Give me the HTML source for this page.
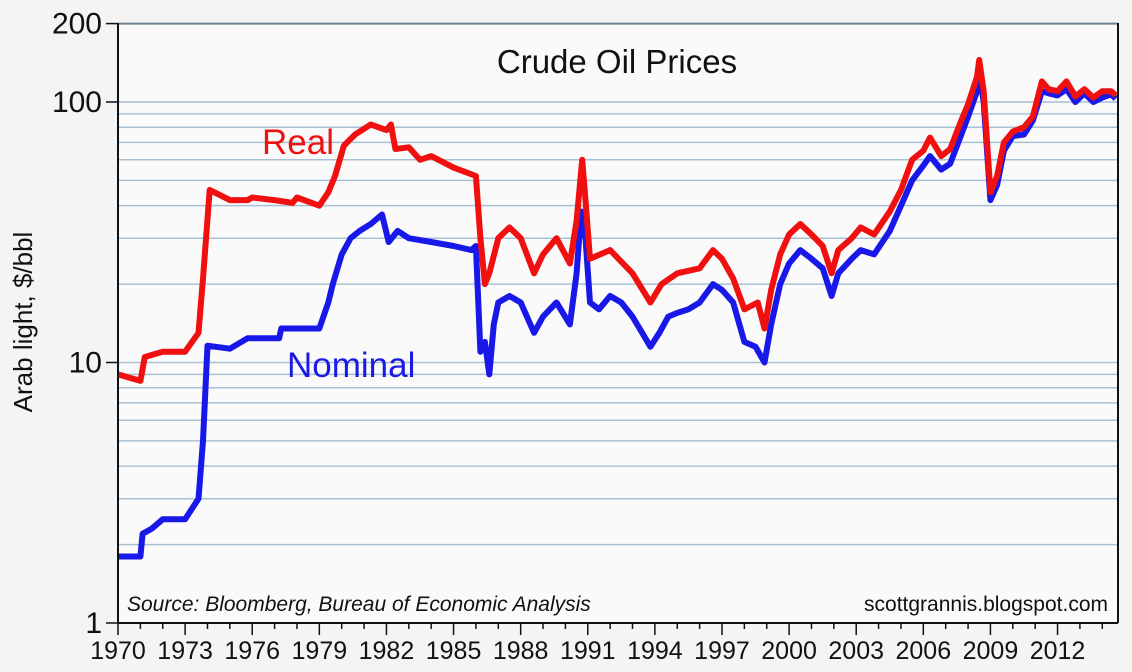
<!DOCTYPE html>
<html><head><meta charset="utf-8">
<style>
html,body{margin:0;padding:0;background:#f4f4f4;}
svg{display:block;font-family:"Liberation Sans",sans-serif;}
</style></head>
<body>
<svg id="chart" width="1132" height="672">
<rect x="0" y="0" width="1132" height="672" fill="#f4f4f4"/>
<rect x="118" y="23" width="1000" height="600" fill="#fafafa"/>
<g id="grid"></g>
<g id="series"></g>
<g id="axes"></g>
<text x="617" y="73" font-size="33" text-anchor="middle" fill="#111">Crude Oil Prices</text>
<text x="262" y="154" font-size="35" fill="#ee1111">Real</text>
<text x="287" y="377" font-size="35" fill="#1a1ae6">Nominal</text>
<text x="127" y="611" font-size="21" font-style="italic" fill="#111">Source: Bloomberg, Bureau of Economic Analysis</text>
<text x="1108" y="611" font-size="21" text-anchor="end" fill="#111">scottgrannis.blogspot.com</text>
<text transform="translate(32,322) rotate(-90)" font-size="26" text-anchor="middle" fill="#111">Arab light, $/bbl</text>
</svg>
<script>
const yTickLabels=[1,10,100,200];
const xTickLabels=[1970,1973,1976,1979,1982,1985,1988,1991,1994,1997,2000,2003,2006,2009,2012];
const nominalYears=[1970,1971,1971.1,1971.5,1972,1973,1973.6,1973.8,1974.0,1975,1975.8,1977.2,1977.3,1979.0,1979.4,1979.6,1980.0,1980.4,1980.8,1981.3,1981.8,1982.1,1982.5,1983,1984,1985,1985.8,1986.0,1986.2,1986.4,1986.6,1986.8,1987,1987.5,1988,1988.6,1989,1989.6,1990.2,1990.5,1990.7,1990.9,1991.1,1991.5,1992,1992.5,1993,1993.8,1994.2,1994.6,1995,1995.5,1996,1996.6,1997,1997.5,1998,1998.5,1998.9,1999.2,1999.6,2000,2000.5,2001,2001.5,2001.9,2002.2,2002.8,2003.2,2003.8,2004.5,2005,2005.5,2006,2006.3,2006.8,2007.2,2007.7,2008.0,2008.4,2008.5,2008.7,2009.0,2009.3,2009.6,2010,2010.5,2010.9,2011.3,2011.6,2012.0,2012.4,2012.8,2013.2,2013.6,2014,2014.4,2014.6];
const nominalValues=[1.8,1.8,2.2,2.3,2.5,2.5,3.0,5,11.6,11.3,12.4,12.4,13.5,13.5,17,20,26,30,32,34,37,29,32,30,29,28,27,28,11,12,9,14,17,18,17,13,15,17,14,22,38,30,17,16,18,17,15,11.5,13,15,15.5,16,17,20,19,17,12,11.5,10,14,20,24,27,25,23,18,22,25,27,26,32,40,50,57,62,55,58,75,88,110,130,100,42,48,65,74,75,85,110,108,106,112,100,108,100,104,107,103];
const realYears=[1970,1971,1971.2,1972,1973,1973.6,1973.8,1974.1,1975,1975.8,1976,1977,1977.8,1978,1979,1979.4,1979.7,1980.1,1980.6,1981.3,1982.0,1982.2,1982.4,1983,1983.5,1984,1985,1986,1986.2,1986.4,1986.6,1987.0,1987.5,1988,1988.6,1989,1989.6,1990.2,1990.5,1990.75,1990.9,1991.1,1992,1993,1993.8,1994.3,1995,1996,1996.6,1997,1997.5,1998,1998.6,1998.9,1999.2,1999.6,2000,2000.5,2001,2001.5,2001.9,2002.2,2002.8,2003.2,2003.8,2004.5,2005,2005.5,2006,2006.3,2006.8,2007.2,2007.7,2008.0,2008.4,2008.5,2008.7,2009.0,2009.3,2009.6,2010,2010.5,2010.9,2011.3,2011.6,2012,2012.4,2012.8,2013.2,2013.6,2014,2014.4,2014.6];
const realValues=[9,8.5,10.5,11,11,13,21,46,42,42,43,42,41,43,40,45,52,68,75,82,78,82,66,67,60,62,56,52,30,20,22,30,33,30,22,26,30,24,35,60,42,25,27,22,17,20,22,23,27,25,21,16,17,13.5,19,26,31,34,31,28,22,27,30,33,31,38,46,60,65,73,62,66,85,98,125,145,110,45,52,70,77,80,88,120,112,110,120,105,112,104,110,110,106];

(function(){
const NS="http://www.w3.org/2000/svg";
const L=118,R=1118,T=23,B=623;
function xScale(yr){return L+(yr-1970)*22.37;}
function yScale(v){return B-Math.log10(v)*260.5;}
function mk(tag,attrs,parent){const e=document.createElementNS(NS,tag);for(const k in attrs)e.setAttribute(k,attrs[k]);parent.appendChild(e);return e;}
const grid=document.getElementById('grid'),axes=document.getElementById('axes'),ser=document.getElementById('series');
for(let d=1;d<=100;d*=10){for(let m=1;m<=9;m++){const v=d*m;if(v<=1||v>=200)continue;
 const ln=mk('line',{x1:L,x2:R,y1:yScale(v),y2:yScale(v),stroke:'#a8c0d4','stroke-width':1.5},grid);
 
 }}
const topLine=mk('line',{x1:L,x2:R,y1:yScale(200),y2:yScale(200),stroke:'#6e8392','stroke-width':2},grid);


function path(xs,vs,color,name){let d='';for(let i=0;i<xs.length;i++)d+=(i?'L':'M')+xScale(xs[i]).toFixed(1)+','+yScale(vs[i]).toFixed(1);
 const p=mk('path',{d:d,fill:'none',stroke:color,'stroke-width':6,'stroke-linejoin':'round'},ser);
 
 }
path(nominalYears,nominalValues,'#1818e8','nominal-line');
path(realYears,realValues,'#f01010','real-line');
const ya=mk('line',{x1:L,x2:L,y1:T,y2:B,stroke:'#111','stroke-width':2},axes);


const xa=mk('line',{x1:L,x2:R,y1:B,y2:B,stroke:'#111','stroke-width':2},axes);


const rb=mk('line',{x1:R,x2:R,y1:T,y2:B,stroke:'#111','stroke-width':2},axes);


yTickLabels.forEach(v=>{const y=yScale(v);
 const t=mk('line',{x1:L-12,x2:L,y1:y,y2:y,stroke:'#111','stroke-width':1.5},axes);
 
 
 const tx=mk('text',{x:L-16,y:y+10,'font-size':30,'text-anchor':'end',fill:'#111'},axes);tx.textContent=v;
 
 });
for(let yr=1970;yr<=2014;yr++){const x=xScale(yr);const major=(yr-1970)%3===0;
 const t=mk('line',{x1:x,x2:x,y1:B,y2:B+(major?12:6),stroke:'#111','stroke-width':1.5},axes);
 
 }
xTickLabels.forEach(yr=>{const tx=mk('text',{x:xScale(yr),y:B+36,'font-size':25,'text-anchor':'middle',fill:'#111'},axes);tx.textContent=yr;
 
 });
})();
</script>
</body></html>
